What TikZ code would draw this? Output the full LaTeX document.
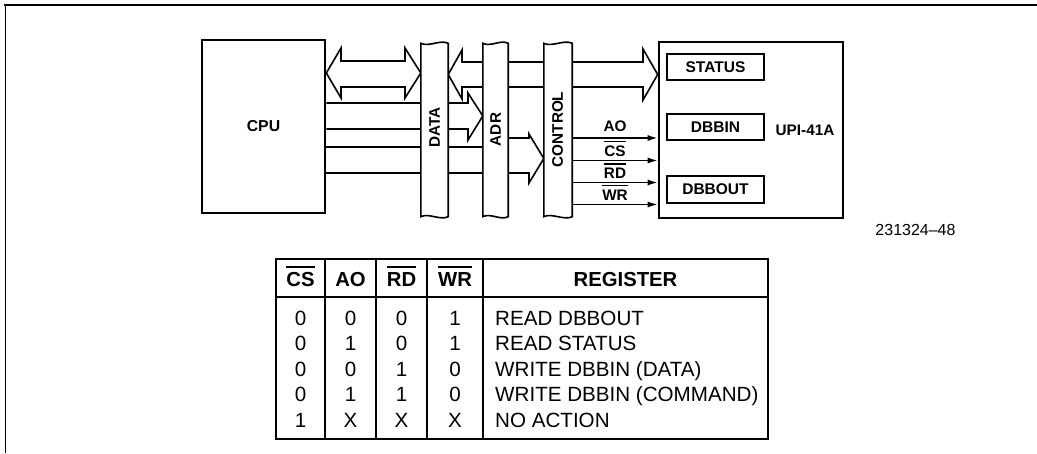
\documentclass[tikz,border=0pt]{standalone}
\usepackage{fontspec}
\setmainfont{Liberation Sans}
\usetikzlibrary{arrows.meta}
\newlength{\ovlw}
\newcommand{\ovl}[1]{\settowidth{\ovlw}{#1}\rlap{\rule[0.9em]{\ovlw}{1.4pt}}#1}
\begin{document}
\begin{tikzpicture}[x=1pt,y=-1pt,
  box/.style={draw, line width=2.6pt, inner sep=0pt},
  reg/.style={draw, line width=1.8pt, minimum width=97pt, minimum height=26pt, inner sep=0pt, font=\fontsize{15.5}{18}\selectfont\bfseries},
  lbl/.style={font=\fontsize{15.3}{18}\selectfont\bfseries, inner sep=0pt},
  bar/.style={minimum height=173pt, inner sep=0pt},
  barline/.style={draw, fill=white, line width=1.6pt},
  bus/.style={draw, line width=1.6pt, line join=miter},
  sig/.style={line width=1.6pt, -{Latex[length=10pt,width=6pt]}},
  tab/.style={line width=1.3pt},
  cell/.style={font=\fontsize{20.6}{24}\selectfont, inner sep=0pt, anchor=base},
  headc/.style={font=\fontsize{20.3}{24}\selectfont\bfseries, inner sep=0pt, anchor=base}]
\useasboundingbox (0,0) rectangle (1037,453);
% outer frame (top and left)
\draw[line width=1.8pt] (4,5) -- (1037,5);
\draw[line width=1.2pt] (5.5,5) -- (5.5,453);

% main blocks
\node[box, minimum width=123pt, minimum height=173pt, font=\fontsize{15.8}{18}\selectfont\bfseries] (cpu) at (263.5,126.5) {CPU};
\node[box, minimum width=184pt, minimum height=176pt] (upi) at (751,130) {};
\node[lbl] (upilbl) at (805,130) {UPI-41A};
\node[reg] (status) at (715.5,67) {STATUS};
\node[reg] (dbbin) at (715.5,127) {DBBIN};
\node[reg, minimum height=27pt] (dbbout) at (715.5,189.5) {DBBOUT};

% bus bar placeholders
\node[bar, minimum width=27pt] (data) at (434.5,130) {};
\node[bar, minimum width=25pt] (adr) at (495.5,130) {};
\node[bar, minimum width=28pt] (control) at (558,130) {};

% CPU <-> DATA bus
\draw[bus] (cpu.east |- 0,73) -- (341,48) -- (341,61) -- (405,61) -- (405,48) -- (data.west |- 0,73)
  -- (405,98) -- (405,87) -- (341,87) -- (341,98) -- cycle;
% DATA <-> UPI bus
\draw[bus] (data.east |- 0,74.5) -- (462,50) -- (462,62) -- (643,62) -- (643,49) -- (upi.west |- 0,74.5)
  -- (643,100) -- (643,87) -- (462,87) -- (462,99) -- cycle;
% CPU lines into DATA -> ADR arrow
\draw[bus] (cpu.east |- 0,103) -- (468,103) -- (468,93) -- (adr.west |- 0,116) -- (468,140) -- (468,129) -- (cpu.east |- 0,129);
% CPU lines to ADR
\draw[bus] (cpu.east |- 0,147) -- (adr.west |- 0,147);
\draw[bus] (cpu.east |- 0,173) -- (adr.west |- 0,173);
% ADR -> CONTROL arrow
\draw[bus] (adr.east |- 0,138) -- (529,138) -- (529,134) -- (control.west |- 0,158.5) -- (529,183) -- (529,173) -- (adr.east |- 0,173);

% bars drawn on top
\foreach \b in {data,adr,control}{
  \path[barline] (\b.north west) .. controls +(8,4) and +(-8,-4) .. (\b.north east) -- (\b.south east)
    .. controls +(-8,4) and +(8,-4) .. (\b.south west) -- cycle;
}
\node[lbl, rotate=90] (datalbl) at (434.5,127.5) {DATA};
\node[lbl, rotate=90] (adrlbl) at (495.5,129.5) {ADR};
\node[lbl, rotate=90] (controllbl) at (557.5,129.5) {CONTROL};

% control signals
\draw[sig] (control.east |- 0,138) -- (upi.west |- 0,138);
\draw[sig] (control.east |- 0,160.5) -- (upi.west |- 0,160.5);
\draw[sig] (control.east |- 0,182.5) -- (upi.west |- 0,182.5);
\draw[sig] (control.east |- 0,204.5) -- (upi.west |- 0,204.5);
\node[lbl, anchor=base] (ao) at (615,131.5) {AO};
\node[lbl, anchor=base] (cs) at (615,156) {\ovl{CS}};
\node[lbl, anchor=base] (rd) at (615,178.3) {\ovl{RD}};
\node[lbl, anchor=base] (wr) at (615,200) {\ovl{WR}};

\node[font=\fontsize{16}{19}\selectfont, inner sep=0pt] (fignum) at (915.5,229.5) {231324–48};

% table
\node[draw, tab, minimum width=492pt, minimum height=180pt, inner sep=0pt] (tbl) at (522,349) {};
\draw[tab] (tbl.west |- 0,297) -- (tbl.east |- 0,297);
\foreach \cx in {325,376,427,483}{
  \draw[tab] (\cx,0 |- tbl.north) -- (\cx,0 |- tbl.south);
}
\node[headc] (h1) at (300.5,286) {\ovl{CS}};
\node[headc] (h2) at (350.5,286) {AO};
\node[headc] (h3) at (401.5,286) {\ovl{RD}};
\node[headc] (h4) at (455,286) {\ovl{WR}};
\node[headc] (h5) at (625.5,286) {REGISTER};
\foreach \y/\a/\b/\c/\d/\txt [count=\r] in {325/0/0/0/1/{READ DBBOUT}, 350.6/0/1/0/1/{READ STATUS}, 376.2/0/0/1/0/{WRITE DBBIN (DATA)}, 401.8/0/1/1/0/{WRITE DBBIN (COMMAND)}, 427.4/1/X/X/X/{NO ACTION}}{
  \node[cell] (r\r a) at (300.5,\y) {\a};
  \node[cell] (r\r b) at (350.5,\y) {\b};
  \node[cell] (r\r c) at (401.5,\y) {\c};
  \node[cell] (r\r d) at (455,\y) {\d};
  \node[cell, anchor=base west] (r\r e) at (495,\y) {\txt};
}
\end{tikzpicture}
\end{document}
